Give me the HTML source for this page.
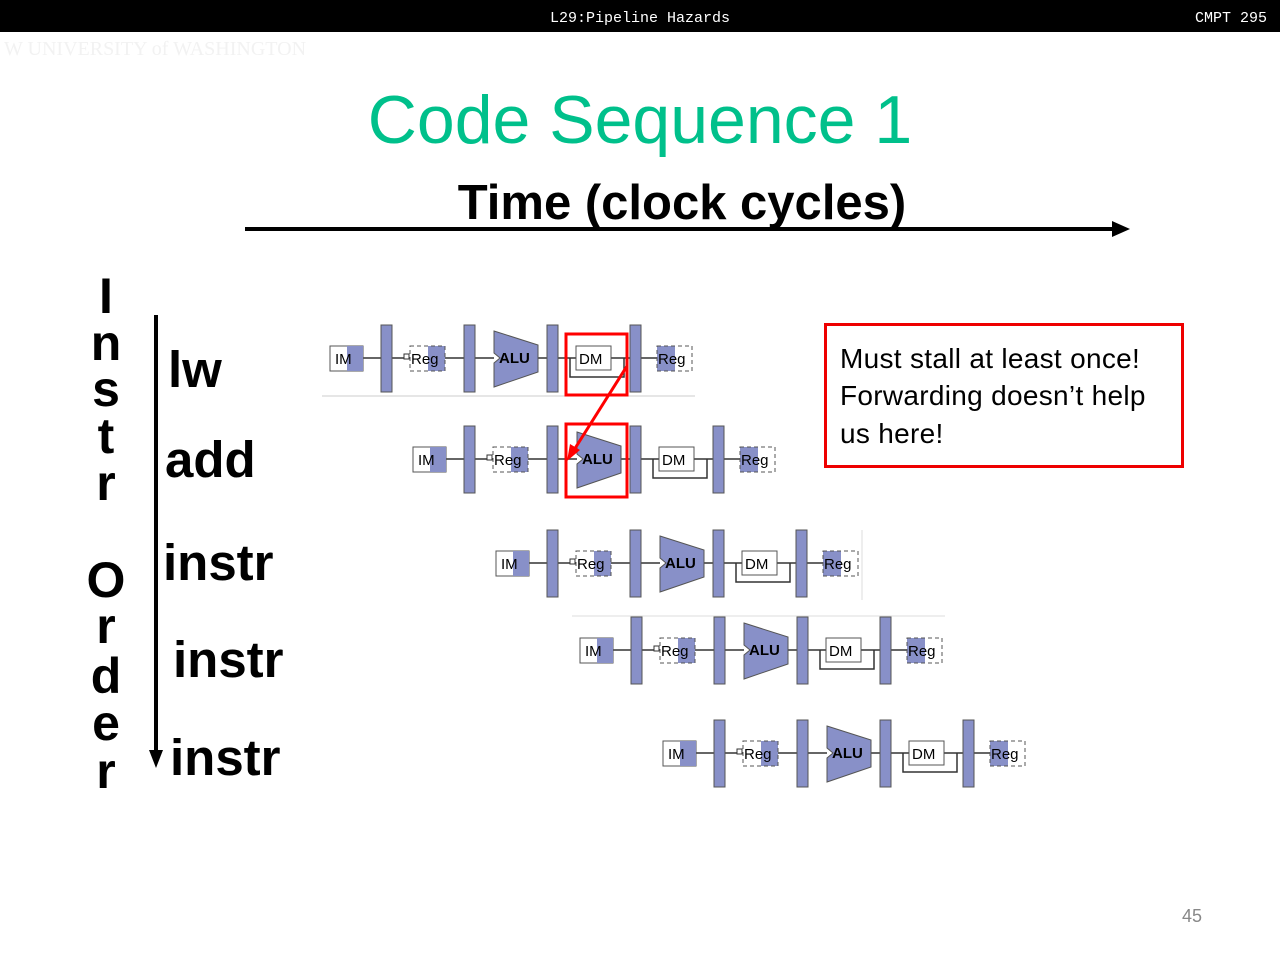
<!DOCTYPE html>
<html><head><meta charset="utf-8"><style>
body{margin:0;width:1280px;height:960px;background:#fff;overflow:hidden;position:relative;font-family:"Liberation Sans",sans-serif}
</style></head><body>
<svg width="1280" height="960" viewBox="0 0 1280 960" xmlns="http://www.w3.org/2000/svg" style="position:absolute;left:0;top:0">
<rect x="0" y="0" width="1280" height="32" fill="#000"/>
<text x="640" y="22" fill="#fff" font-family="Liberation Mono,monospace" font-size="15" text-anchor="middle">L29:Pipeline Hazards</text>
<text x="1267" y="22" fill="#fff" font-family="Liberation Mono,monospace" font-size="15" text-anchor="end">CMPT 295</text>
<text x="4" y="55" fill="#f2f2f2" font-family="Liberation Serif,serif" font-size="20">W UNIVERSITY of WASHINGTON</text>
<text x="640" y="143" fill="#00c08b" font-size="68" text-anchor="middle">Code Sequence 1</text>
<text x="682" y="219" fill="#000" font-size="49" font-weight="bold" text-anchor="middle">Time (clock cycles)</text>
<line x1="245" y1="229" x2="1115" y2="229" stroke="#000" stroke-width="4"/>
<polygon points="1130,229 1112,221 1112,237" fill="#000"/>
<g font-size="50" font-weight="bold" text-anchor="middle" fill="#000">
<text x="106" y="313">I</text><text x="106" y="360">n</text><text x="106" y="406">s</text><text x="106" y="453">t</text><text x="106" y="500">r</text>
<text x="106" y="597">O</text><text x="106" y="643">r</text><text x="106" y="693">d</text><text x="106" y="740">e</text><text x="106" y="788">r</text>
</g>
<line x1="156" y1="315" x2="156" y2="752" stroke="#000" stroke-width="4"/>
<polygon points="156,768 149,750 163,750" fill="#000"/>
<g font-size="51" font-weight="bold" fill="#000">
<text x="168" y="387">lw</text><text x="165" y="477">add</text><text x="163" y="580">instr</text><text x="173" y="677">instr</text><text x="170" y="775">instr</text>
</g>
<line x1="322" y1="396" x2="695" y2="396" stroke="#ccc"/>
<line x1="862" y1="530" x2="862" y2="600" stroke="#ddd"/>
<line x1="572" y1="616" x2="945" y2="616" stroke="#ddd"/>
<g transform="translate(330,358)">
<g stroke="#333" stroke-width="1.5" fill="none">
<line x1="33" y1="0" x2="51" y2="0"/><line x1="62" y1="0" x2="80" y2="0"/><line x1="115" y1="0" x2="134" y2="0"/><line x1="145" y1="0" x2="164" y2="0"/><line x1="208" y1="0" x2="217" y2="0"/><line x1="228" y1="0" x2="246" y2="0"/><line x1="281" y1="0" x2="300" y2="0"/><line x1="311" y1="0" x2="327" y2="0"/>
<path d="M240,0 V19 H294 V0"/>
</g>
<rect x="0" y="-12" width="33" height="25" fill="#fff" stroke="#555"/><rect x="17" y="-12" width="16" height="25" fill="#8890c8"/><text x="5" y="6" font-size="15">IM</text>
<rect x="51" y="-33" width="11" height="67" fill="#8890c8" stroke="#555"/>
<rect x="74" y="-4" width="5" height="5" fill="#fff" stroke="#333"/>
<rect x="98" y="-12" width="17" height="25" fill="#8890c8"/><rect x="80" y="-12" width="35" height="25" fill="none" stroke="#555" stroke-dasharray="4,3"/><text x="81" y="6" font-size="15">Reg</text>
<rect x="134" y="-33" width="11" height="67" fill="#8890c8" stroke="#555"/>
<polygon points="164,-27 208,-13 208,14 164,29 164,5 170,0 164,-5" fill="#8890c8" stroke="#555"/><text x="169" y="5" font-size="15" font-weight="bold">ALU</text>
<rect x="217" y="-33" width="11" height="67" fill="#8890c8" stroke="#555"/>
<rect x="246" y="-12" width="35" height="24" fill="#fff" stroke="#555"/><text x="249" y="6" font-size="15">DM</text>
<rect x="300" y="-33" width="11" height="67" fill="#8890c8" stroke="#555"/>
<rect x="327" y="-12" width="18" height="25" fill="#8890c8"/><rect x="327" y="-12" width="35" height="25" fill="none" stroke="#555" stroke-dasharray="4,3"/><text x="328" y="6" font-size="15">Reg</text>
</g>
<g transform="translate(413,459)">
<g stroke="#333" stroke-width="1.5" fill="none">
<line x1="33" y1="0" x2="51" y2="0"/><line x1="62" y1="0" x2="80" y2="0"/><line x1="115" y1="0" x2="134" y2="0"/><line x1="145" y1="0" x2="164" y2="0"/><line x1="208" y1="0" x2="217" y2="0"/><line x1="228" y1="0" x2="246" y2="0"/><line x1="281" y1="0" x2="300" y2="0"/><line x1="311" y1="0" x2="327" y2="0"/>
<path d="M240,0 V19 H294 V0"/>
</g>
<rect x="0" y="-12" width="33" height="25" fill="#fff" stroke="#555"/><rect x="17" y="-12" width="16" height="25" fill="#8890c8"/><text x="5" y="6" font-size="15">IM</text>
<rect x="51" y="-33" width="11" height="67" fill="#8890c8" stroke="#555"/>
<rect x="74" y="-4" width="5" height="5" fill="#fff" stroke="#333"/>
<rect x="98" y="-12" width="17" height="25" fill="#8890c8"/><rect x="80" y="-12" width="35" height="25" fill="none" stroke="#555" stroke-dasharray="4,3"/><text x="81" y="6" font-size="15">Reg</text>
<rect x="134" y="-33" width="11" height="67" fill="#8890c8" stroke="#555"/>
<polygon points="164,-27 208,-13 208,14 164,29 164,5 170,0 164,-5" fill="#8890c8" stroke="#555"/><text x="169" y="5" font-size="15" font-weight="bold">ALU</text>
<rect x="217" y="-33" width="11" height="67" fill="#8890c8" stroke="#555"/>
<rect x="246" y="-12" width="35" height="24" fill="#fff" stroke="#555"/><text x="249" y="6" font-size="15">DM</text>
<rect x="300" y="-33" width="11" height="67" fill="#8890c8" stroke="#555"/>
<rect x="327" y="-12" width="18" height="25" fill="#8890c8"/><rect x="327" y="-12" width="35" height="25" fill="none" stroke="#555" stroke-dasharray="4,3"/><text x="328" y="6" font-size="15">Reg</text>
</g>
<g transform="translate(496,563)">
<g stroke="#333" stroke-width="1.5" fill="none">
<line x1="33" y1="0" x2="51" y2="0"/><line x1="62" y1="0" x2="80" y2="0"/><line x1="115" y1="0" x2="134" y2="0"/><line x1="145" y1="0" x2="164" y2="0"/><line x1="208" y1="0" x2="217" y2="0"/><line x1="228" y1="0" x2="246" y2="0"/><line x1="281" y1="0" x2="300" y2="0"/><line x1="311" y1="0" x2="327" y2="0"/>
<path d="M240,0 V19 H294 V0"/>
</g>
<rect x="0" y="-12" width="33" height="25" fill="#fff" stroke="#555"/><rect x="17" y="-12" width="16" height="25" fill="#8890c8"/><text x="5" y="6" font-size="15">IM</text>
<rect x="51" y="-33" width="11" height="67" fill="#8890c8" stroke="#555"/>
<rect x="74" y="-4" width="5" height="5" fill="#fff" stroke="#333"/>
<rect x="98" y="-12" width="17" height="25" fill="#8890c8"/><rect x="80" y="-12" width="35" height="25" fill="none" stroke="#555" stroke-dasharray="4,3"/><text x="81" y="6" font-size="15">Reg</text>
<rect x="134" y="-33" width="11" height="67" fill="#8890c8" stroke="#555"/>
<polygon points="164,-27 208,-13 208,14 164,29 164,5 170,0 164,-5" fill="#8890c8" stroke="#555"/><text x="169" y="5" font-size="15" font-weight="bold">ALU</text>
<rect x="217" y="-33" width="11" height="67" fill="#8890c8" stroke="#555"/>
<rect x="246" y="-12" width="35" height="24" fill="#fff" stroke="#555"/><text x="249" y="6" font-size="15">DM</text>
<rect x="300" y="-33" width="11" height="67" fill="#8890c8" stroke="#555"/>
<rect x="327" y="-12" width="18" height="25" fill="#8890c8"/><rect x="327" y="-12" width="35" height="25" fill="none" stroke="#555" stroke-dasharray="4,3"/><text x="328" y="6" font-size="15">Reg</text>
</g>
<g transform="translate(580,650)">
<g stroke="#333" stroke-width="1.5" fill="none">
<line x1="33" y1="0" x2="51" y2="0"/><line x1="62" y1="0" x2="80" y2="0"/><line x1="115" y1="0" x2="134" y2="0"/><line x1="145" y1="0" x2="164" y2="0"/><line x1="208" y1="0" x2="217" y2="0"/><line x1="228" y1="0" x2="246" y2="0"/><line x1="281" y1="0" x2="300" y2="0"/><line x1="311" y1="0" x2="327" y2="0"/>
<path d="M240,0 V19 H294 V0"/>
</g>
<rect x="0" y="-12" width="33" height="25" fill="#fff" stroke="#555"/><rect x="17" y="-12" width="16" height="25" fill="#8890c8"/><text x="5" y="6" font-size="15">IM</text>
<rect x="51" y="-33" width="11" height="67" fill="#8890c8" stroke="#555"/>
<rect x="74" y="-4" width="5" height="5" fill="#fff" stroke="#333"/>
<rect x="98" y="-12" width="17" height="25" fill="#8890c8"/><rect x="80" y="-12" width="35" height="25" fill="none" stroke="#555" stroke-dasharray="4,3"/><text x="81" y="6" font-size="15">Reg</text>
<rect x="134" y="-33" width="11" height="67" fill="#8890c8" stroke="#555"/>
<polygon points="164,-27 208,-13 208,14 164,29 164,5 170,0 164,-5" fill="#8890c8" stroke="#555"/><text x="169" y="5" font-size="15" font-weight="bold">ALU</text>
<rect x="217" y="-33" width="11" height="67" fill="#8890c8" stroke="#555"/>
<rect x="246" y="-12" width="35" height="24" fill="#fff" stroke="#555"/><text x="249" y="6" font-size="15">DM</text>
<rect x="300" y="-33" width="11" height="67" fill="#8890c8" stroke="#555"/>
<rect x="327" y="-12" width="18" height="25" fill="#8890c8"/><rect x="327" y="-12" width="35" height="25" fill="none" stroke="#555" stroke-dasharray="4,3"/><text x="328" y="6" font-size="15">Reg</text>
</g>
<g transform="translate(663,753)">
<g stroke="#333" stroke-width="1.5" fill="none">
<line x1="33" y1="0" x2="51" y2="0"/><line x1="62" y1="0" x2="80" y2="0"/><line x1="115" y1="0" x2="134" y2="0"/><line x1="145" y1="0" x2="164" y2="0"/><line x1="208" y1="0" x2="217" y2="0"/><line x1="228" y1="0" x2="246" y2="0"/><line x1="281" y1="0" x2="300" y2="0"/><line x1="311" y1="0" x2="327" y2="0"/>
<path d="M240,0 V19 H294 V0"/>
</g>
<rect x="0" y="-12" width="33" height="25" fill="#fff" stroke="#555"/><rect x="17" y="-12" width="16" height="25" fill="#8890c8"/><text x="5" y="6" font-size="15">IM</text>
<rect x="51" y="-33" width="11" height="67" fill="#8890c8" stroke="#555"/>
<rect x="74" y="-4" width="5" height="5" fill="#fff" stroke="#333"/>
<rect x="98" y="-12" width="17" height="25" fill="#8890c8"/><rect x="80" y="-12" width="35" height="25" fill="none" stroke="#555" stroke-dasharray="4,3"/><text x="81" y="6" font-size="15">Reg</text>
<rect x="134" y="-33" width="11" height="67" fill="#8890c8" stroke="#555"/>
<polygon points="164,-27 208,-13 208,14 164,29 164,5 170,0 164,-5" fill="#8890c8" stroke="#555"/><text x="169" y="5" font-size="15" font-weight="bold">ALU</text>
<rect x="217" y="-33" width="11" height="67" fill="#8890c8" stroke="#555"/>
<rect x="246" y="-12" width="35" height="24" fill="#fff" stroke="#555"/><text x="249" y="6" font-size="15">DM</text>
<rect x="300" y="-33" width="11" height="67" fill="#8890c8" stroke="#555"/>
<rect x="327" y="-12" width="18" height="25" fill="#8890c8"/><rect x="327" y="-12" width="35" height="25" fill="none" stroke="#555" stroke-dasharray="4,3"/><text x="328" y="6" font-size="15">Reg</text>
</g>
<rect x="566" y="334" width="61" height="61" fill="none" stroke="#f00" stroke-width="3"/>
<rect x="566" y="424" width="61" height="73" fill="none" stroke="#f00" stroke-width="3"/>
<line x1="627" y1="366" x2="574" y2="450" stroke="#f00" stroke-width="3"/>
<polygon points="567,461 570,444 580,450" fill="#f00"/>
<rect x="825.5" y="324.5" width="357" height="142" fill="none" stroke="#e00" stroke-width="3"/>
<g font-size="28" fill="#000" letter-spacing="0.3">
<text x="840" y="368">Must stall at least once!</text>
<text x="840" y="405">Forwarding doesn’t help</text>
<text x="840" y="443">us here!</text>
</g>
<text x="1192" y="922" fill="#888" font-size="18" text-anchor="middle">45</text>
</svg>
</body></html>
